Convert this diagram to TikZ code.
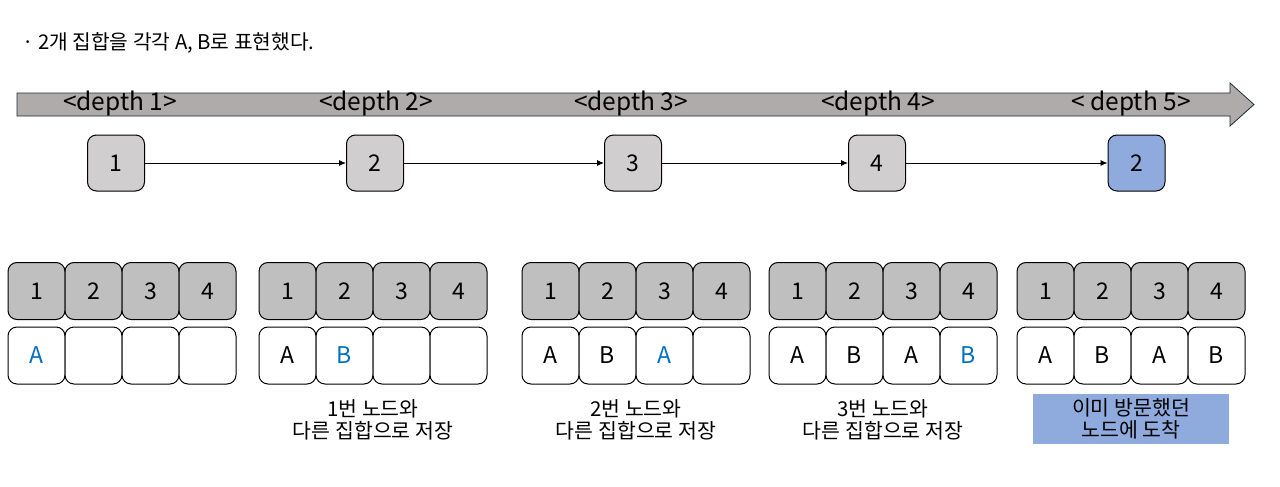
\documentclass[tikz,border=0pt]{standalone}
\usepackage{fontspec}
\setmainfont{Noto Sans CJK KR}
\usetikzlibrary{arrows.meta}
\definecolor{bargray}{HTML}{AFABAB}
\definecolor{nodegray}{HTML}{D0CECE}
\definecolor{cellgray}{HTML}{BFBFBF}
\definecolor{hlblue}{HTML}{8FAADC}
\definecolor{txtblue}{HTML}{0070C0}
\definecolor{barline}{HTML}{1F2A3A}
\begin{document}
\begin{tikzpicture}[x=1pt,y=-1pt,
  stepnode/.style={draw, line width=1pt, rounded corners=9pt, minimum width=57pt, minimum height=56pt, fill=nodegray, font=\fontsize{23}{26}\selectfont, inner sep=0pt},
  cellnum/.style={draw, line width=1pt, rounded corners=9pt, minimum width=57pt, minimum height=57pt, fill=cellgray, font=\fontsize{23}{26}\selectfont, inner sep=0pt},
  cellset/.style={draw, line width=1pt, rounded corners=9pt, minimum width=57pt, minimum height=57pt, fill=white, font=\fontsize{23}{26}\selectfont, inner sep=0pt},
  deplabel/.style={font=\fontsize{24.5}{26}\selectfont, inner sep=0pt},
  note/.style={font=\fontsize{20.5}{21.5}\selectfont, align=center, inner sep=0pt},
  link/.style={-{Latex[length=7pt,width=6pt]}, line width=0.9pt}]
\useasboundingbox (0,0) rectangle (1280,487);
% title
\node[anchor=west, font=\fontsize{20.3}{22}\selectfont, inner sep=0pt] (title) at (22,43) {· 2개 집합을 각각 A, B로 표현했다.};
% big depth arrow
\draw[fill=bargray, draw=barline, line width=0.8pt] (17,93) -- (1230,93) -- (1230,83) -- (1254,104.5) -- (1230,126) -- (1230,116) -- (17,116) -- cycle;
\node[deplabel] (d1) at (120,104) {<depth 1>};
\node[deplabel] (d2) at (376,104) {<depth 2>};
\node[deplabel] (d3) at (631,104) {<depth 3>};
\node[deplabel] (d4) at (878,104) {<depth 4>};
\node[deplabel] (d5) at (1131,104) {< depth 5>};
% top nodes
\node[stepnode] (n1) at (116,163) {1};
\node[stepnode] (n2) at (375,163) {2};
\node[stepnode] (n3) at (633,163) {3};
\node[stepnode] (n4) at (877,163) {4};
\node[stepnode, fill=hlblue] (n5) at (1136.5,163) {2};
\draw[link] (n1) -- (n2);
\draw[link] (n2) -- (n3);
\draw[link] (n3) -- (n4);
\draw[link] (n4) -- (n5);
% arrays
\foreach \g/\x in {1/8, 2/259, 3/522, 4/769, 5/1017} {
  \foreach \i in {1,...,4} {
    \node[cellnum] (g\g t\i) at ({\x+28.5+57*(\i-1)},291) {\i};
  }
}
% set rows
\newcommand{\cellrow}[6]{%
  \node[cellset] (g#1b1) at ({#2+28.5},355.5) {#3};
  \node[cellset] (g#1b2) at ({#2+85.5},355.5) {#4};
  \node[cellset] (g#1b3) at ({#2+142.5},355.5) {#5};
  \node[cellset] (g#1b4) at ({#2+199.5},355.5) {#6};}
\cellrow{1}{8}{\textcolor{txtblue}{A}}{}{}{}
\cellrow{2}{259}{A}{\textcolor{txtblue}{B}}{}{}
\cellrow{3}{522}{A}{B}{\textcolor{txtblue}{A}}{}
\cellrow{4}{769}{A}{B}{A}{\textcolor{txtblue}{B}}
\cellrow{5}{1017}{A}{B}{A}{B}
% notes
\node[note] (c2) at (373,420) {1번 노드와\\다른 집합으로 저장};
\node[note] (c3) at (636,420) {2번 노드와\\다른 집합으로 저장};
\node[note] (c4) at (883,420) {3번 노드와\\다른 집합으로 저장};
\node[note, fill=hlblue, minimum width=196pt, minimum height=50pt] (c5) at (1131,419) {이미 방문했던\\노드에 도착};
\end{tikzpicture}
\end{document}
